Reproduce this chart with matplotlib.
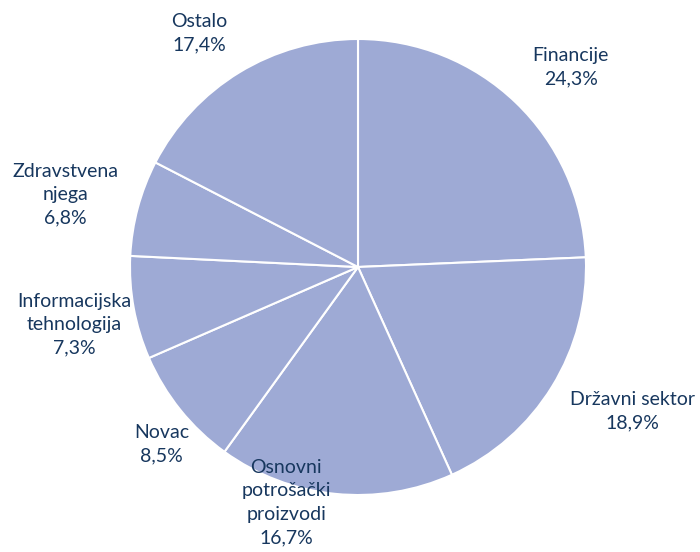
import numpy as np
import matplotlib
matplotlib.use("Agg")
import matplotlib.pyplot as plt

categories = ["Financije", "Državni sektor", "Osnovni\npotrošački\nproizvodi", "Novac",
              "Informacijska\ntehnologija", "Zdravstvena\nnjega", "Ostalo"]
shares = [24.3, 18.9, 16.7, 8.5, 7.3, 6.8, 17.4]
share_labels = ["24,3%", "18,9%", "16,7%", "8,5%", "7,3%", "6,8%", "17,4%"]

# label placement: distance from centre (pie radii) and angle nudge (deg) per slice
label_dist = [1.28, 1.36, 1.08, 1.16, 1.27, 1.32, 1.24]
label_nudge = [-3.0, 3.9, -11.2, 3.2, 1.1, 1.2, 2.8]

plt.rcParams['font.family'] = ['Lato', 'DejaVu Sans']

fig = plt.figure(figsize=(7, 5.52), dpi=100)
cx, cy, r = 358, 267, 228
ax = fig.add_axes([(cx - r) / 700, (552 - cy - r) / 552, 2 * r / 700, 2 * r / 552])

wedges, _ = ax.pie(shares, startangle=90, counterclock=False, colors=['#9eaad5'],
                   wedgeprops=dict(edgecolor='white', linewidth=1.5))
ax.set_xlim(-1, 1)
ax.set_ylim(-1, 1)
ax.set_aspect('equal')
ax.axis('off')

for w, name, pct, d, nudge in zip(wedges, categories, share_labels, label_dist, label_nudge):
    ang = np.deg2rad((w.theta1 + w.theta2) / 2 + nudge)
    ax.text(d * np.cos(ang), d * np.sin(ang), name + "\n" + pct, ha='center', va='center',
            fontsize=14, color='#17375e', linespacing=1.45, clip_on=False)

fig.savefig("out.png", dpi=100)
